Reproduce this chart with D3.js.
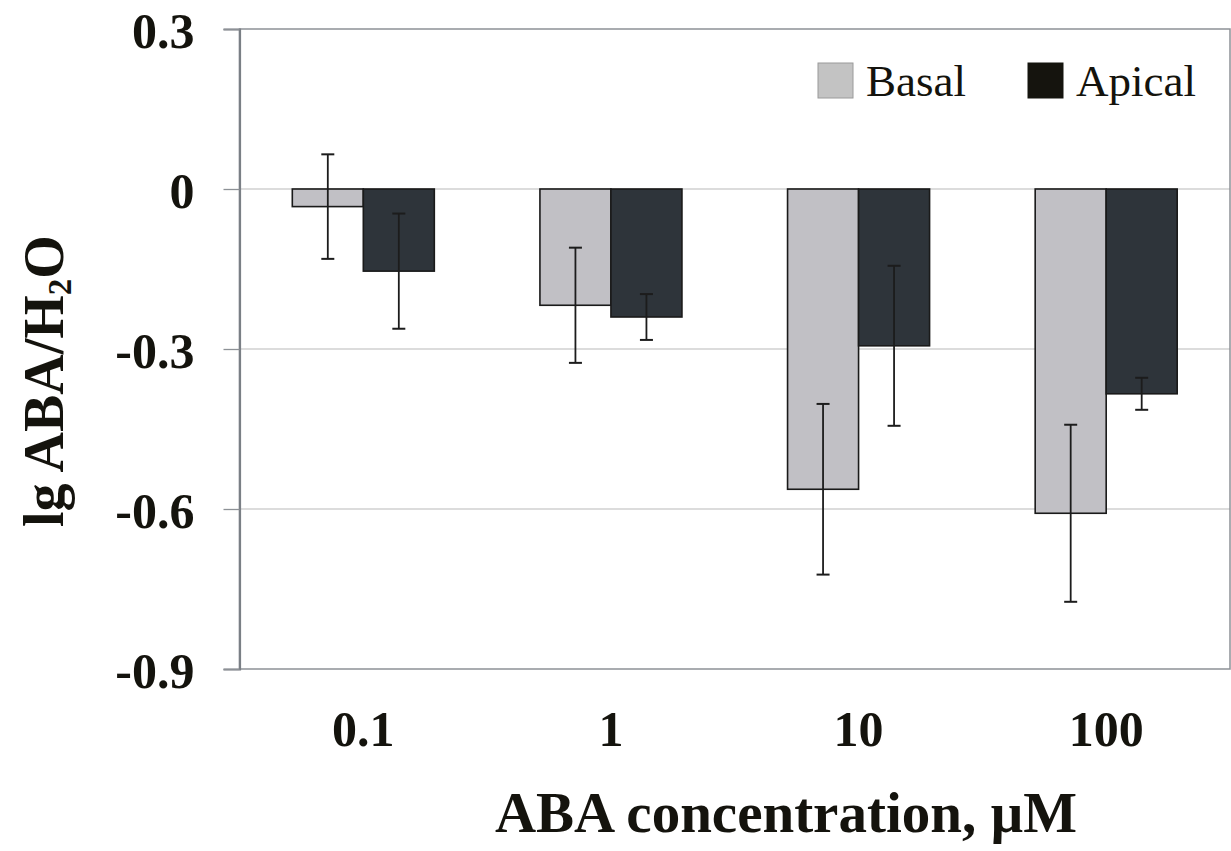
<!DOCTYPE html>
<html>
<head>
<meta charset="utf-8">
<script src="https://cdn.jsdelivr.net/npm/d3@7/dist/d3.min.js"></script>
<style>
  html, body { margin: 0; padding: 0; background: #fff; }
  svg { display: block; }
  text { font-family: "Liberation Serif", "Times New Roman", serif; fill: #14130d; }
</style>
</head>
<body>
<div id="chart"></div>
<script>
//data
var categories = ["0.1", "1", "10", "100"];
var seriesNames = ["Basal", "Apical"];
var basalValues = [-0.033, -0.218, -0.563, -0.608];
var basalErrors = [0.098, 0.108, 0.160, 0.166];
var apicalValues = [-0.154, -0.240, -0.294, -0.384];
var apicalErrors = [0.108, 0.043, 0.150, 0.030];
var yTicks = [0.3, 0, -0.3, -0.6, -0.9];
var yTickLabels = ["0.3", "0", "-0.3", "-0.6", "-0.9"];

//layout
var W = 1231, H = 851;
var plot = { l: 239.5, r: 1230, t: 29, b: 669 };
var color = {
  basal: "#c1c0c5",
  apical: "#2e343a",
  apicalKey: "#15140e",
  grid: "#b9b9b9",
  frame: "#8d9196",
  axis: "#7a7f85",
  ink: "#1c1c1c"
};

var svg = d3.select("#chart").append("svg").attr("width", W).attr("height", H);

var y = d3.scaleLinear().domain([-0.9, 0.3]).range([plot.b, plot.t]);
var x0 = d3.scaleBand().domain(categories).range([plot.l, plot.r])
           .paddingInner(0.4265).paddingOuter(0.21325);
var x1 = d3.scaleBand().domain(seriesNames).range([0, x0.bandwidth()]);

var rows = categories.map(function(c, i) {
  return { cat: c, items: [
    { s: "Basal", v: basalValues[i], e: basalErrors[i], fill: color.basal },
    { s: "Apical", v: apicalValues[i], e: apicalErrors[i], fill: color.apical }
  ]};
});

//gridlines (0, -0.3, -0.6)
svg.append("g").selectAll("line").data(yTicks.filter(function(t) { return t < 0.29 && t > -0.89; }))
   .enter().append("line")
   .attr("x1", plot.l).attr("x2", plot.r)
   .attr("y1", function(d) { return y(d); }).attr("y2", function(d) { return y(d); })
   .attr("stroke", color.grid).attr("stroke-width", 1.2);

//frame
svg.append("rect").attr("x", plot.l).attr("y", plot.t)
   .attr("width", plot.r - plot.l).attr("height", plot.b - plot.t)
   .attr("fill", "none").attr("stroke", color.frame).attr("stroke-width", 1.5);

//y axis
var yAxis = d3.axisLeft(y).tickValues(yTicks).tickSize(16)
              .tickFormat(function(d, i) { return yTickLabels[i]; });
var ya = svg.append("g").attr("transform", "translate(" + plot.l + ",0)").call(yAxis);
ya.select(".domain").attr("stroke", color.axis).attr("stroke-width", 2.2);
ya.selectAll(".tick line").attr("stroke", color.frame).attr("stroke-width", 1.3);
ya.selectAll(".tick text").attr("x", -45).attr("dy", "0.36em")
  .style("font-family", "'Liberation Serif', serif").style("font-weight", "bold")
  .style("font-size", "50px").attr("fill", color.ink);
ya.attr("font-size", null).attr("font-family", null);

//bars
var groups = svg.append("g").selectAll("g").data(rows).enter().append("g")
   .attr("transform", function(d) { return "translate(" + x0(d.cat) + ",0)"; });

groups.selectAll("rect").data(function(d) { return d.items; }).enter().append("rect")
   .attr("x", function(d) { return x1(d.s); })
   .attr("width", x1.bandwidth())
   .attr("y", function(d) { return y(Math.max(0, d.v)); })
   .attr("height", function(d) { return Math.abs(y(d.v) - y(0)); })
   .attr("fill", function(d) { return d.fill; })
   .attr("stroke", "#1a1a1a").attr("stroke-width", 1.6);

//error bars
var eb = groups.selectAll("g.err").data(function(d) { return d.items; }).enter().append("g").attr("class", "err");
var cap = 6.5;
eb.append("line")
  .attr("x1", function(d) { return x1(d.s) + x1.bandwidth() / 2; })
  .attr("x2", function(d) { return x1(d.s) + x1.bandwidth() / 2; })
  .attr("y1", function(d) { return y(d.v + d.e); })
  .attr("y2", function(d) { return y(d.v - d.e); })
  .attr("stroke", color.ink).attr("stroke-width", 1.8);
[1, -1].forEach(function(sgn) {
  eb.append("line")
    .attr("x1", function(d) { return x1(d.s) + x1.bandwidth() / 2 - cap; })
    .attr("x2", function(d) { return x1(d.s) + x1.bandwidth() / 2 + cap; })
    .attr("y1", function(d) { return y(d.v + sgn * d.e); })
    .attr("y2", function(d) { return y(d.v + sgn * d.e); })
    .attr("stroke", color.ink).attr("stroke-width", 2);
});

//x tick labels
svg.append("g").selectAll("text").data(categories).enter().append("text")
   .attr("x", function(d) { return x0(d) + x0.bandwidth() / 2; })
   .attr("y", 746)
   .attr("text-anchor", "middle").attr("font-weight", "bold").attr("font-size", 50)
   .text(function(d) { return d; });

//x title
svg.append("text").attr("x", 786).attr("y", 832)
   .attr("text-anchor", "middle").attr("font-weight", "bold").attr("font-size", 57)
   .text("ABA concentration, µM");

//y title
var yt = svg.append("text").attr("transform", "translate(63,381) rotate(-90)")
   .attr("text-anchor", "middle").attr("font-weight", "bold").attr("font-size", 56);
yt.append("tspan").text("lg ABA/H");
yt.append("tspan").attr("font-size", 33).attr("dy", 8).text("2");
yt.append("tspan").attr("dy", -8).text("O");

//legend
var legend = [
  { name: "Basal", fill: "#c3c3c3", stroke: "#9a9a9a", x: 818 },
  { name: "Apical", fill: color.apicalKey, stroke: color.apicalKey, x: 1028 }
];
var lg = svg.append("g").selectAll("g").data(legend).enter().append("g");
lg.append("rect").attr("x", function(d) { return d.x; }).attr("y", 63)
  .attr("width", 35).attr("height", 35)
  .attr("fill", function(d) { return d.fill; })
  .attr("stroke", function(d) { return d.stroke; }).attr("stroke-width", 1);
lg.append("text").attr("x", function(d) { return d.x + 48; }).attr("y", 96)
  .attr("font-size", 45).text(function(d) { return d.name; });
</script>
</body>
</html>
